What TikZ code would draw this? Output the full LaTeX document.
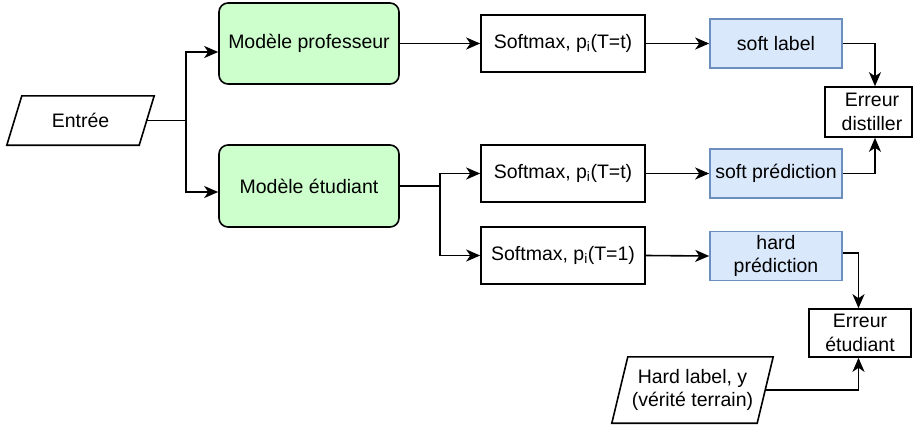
\documentclass[tikz,border=0pt]{standalone}
\usepackage{fontspec}
\setmainfont{Liberation Sans}
\usetikzlibrary{arrows.meta,calc}
\definecolor{greenfill}{HTML}{CCFFCC}
\definecolor{bluefill}{HTML}{DAE8FC}
\definecolor{bluedraw}{HTML}{6C8EBF}
\begin{document}
\begin{tikzpicture}[x=1pt,y=-1pt,
  every node/.style={font=\fontsize{19.5}{23.5}\selectfont, align=center, inner sep=0pt},
  conn/.style={line width=1.6pt},
  arr/.style={conn, -{Stealth[length=14pt,width=12pt,inset=4pt]}},
  greenbox/.style={draw, line width=1.6pt, fill=greenfill, rounded corners=9pt},
  plainbox/.style={draw, line width=1.6pt, fill=white},
  bluebox/.style={draw=bluedraw, line width=1.6pt, fill=bluefill},
  para/.style={draw=none}
]
\useasboundingbox (0,0) rectangle (913,426);

% nodes
\node[para, minimum width=147pt, minimum height=49pt] (entree) at (80.5,120.5) {Entrée};
\draw[line width=1.6pt] ([xshift=15pt]entree.north west) -- (entree.north east)
  -- ([xshift=-15pt]entree.south east) -- (entree.south west) -- cycle;

\node[greenbox, minimum width=180pt, minimum height=81pt] (prof) at (309,43.5) {Modèle professeur};
\node[greenbox, minimum width=180pt, minimum height=82pt] (etud) at (309,186) {Modèle étudiant};

\node[plainbox, minimum width=164pt, minimum height=57pt] (sm1) at (563,43.5) {Softmax, p\textsubscript{i}(T=t)};
\node[plainbox, minimum width=164pt, minimum height=57pt] (sm2) at (563,173.5) {Softmax, p\textsubscript{i}(T=t)};
\node[plainbox, minimum width=164pt, minimum height=57pt] (sm3) at (563,255.5) {Softmax, p\textsubscript{i}(T=1)};

\node[bluebox, minimum width=132pt, minimum height=49pt] (sl) at (776,43.5) {soft label};
\node[bluebox, minimum width=132pt, minimum height=49pt] (sp) at (776,173.5) {soft prédiction};
\node[bluebox, minimum width=132pt, minimum height=49pt] (hp) at (776,256) {hard\\prédiction};

\node[plainbox, minimum width=87pt, minimum height=50pt] (ed) at (868.5,112) {\hspace*{7pt}Erreur\\\hspace*{7pt}distiller};
\node[plainbox, minimum width=102pt, minimum height=48pt] (ee) at (860,333) {Erreur\\étudiant};

\node[para, minimum width=161pt, minimum height=66pt] (hl) at (692.5,390) {Hard label, y\\(vérité terrain)};
\draw[line width=1.6pt] ([xshift=16pt]hl.north west) -- (hl.north east)
  -- ([xshift=-16pt]hl.south east) -- (hl.south west) -- cycle;

% connectors
\coordinate (j1) at (186,120.5);
\draw[conn] ([xshift=-7.5pt]entree.east) -- (j1);
\draw[arr] (j1) |- ([yshift=-8.5pt]prof.west);
\draw[arr] (j1) |- ([yshift=-6pt]etud.west);

\draw[arr] (prof.east) -- (sm1.west);
\coordinate (j2) at (440,186);
\draw[conn] (etud.east) -- (j2);
\draw[arr] (j2) |- (sm2.west);
\draw[arr] (j2) |- (sm3.west);

\draw[arr] (sm1.east) -- (sl.west);
\draw[arr] (sm2.east) -- (sp.west);
\draw[arr] (sm3.east) -- (hp.west);

\draw[arr] (sl.east) -| ([xshift=6.5pt]ed.north);
\draw[arr] (sp.east) -| ([xshift=6.5pt]ed.south);
\draw[arr] ([yshift=3pt]hp.east) -| ([xshift=-1.5pt]ee.north);
\draw[arr] ([xshift=-8pt]hl.east) -| ([xshift=-1.5pt]ee.south);
\end{tikzpicture}
\end{document}
